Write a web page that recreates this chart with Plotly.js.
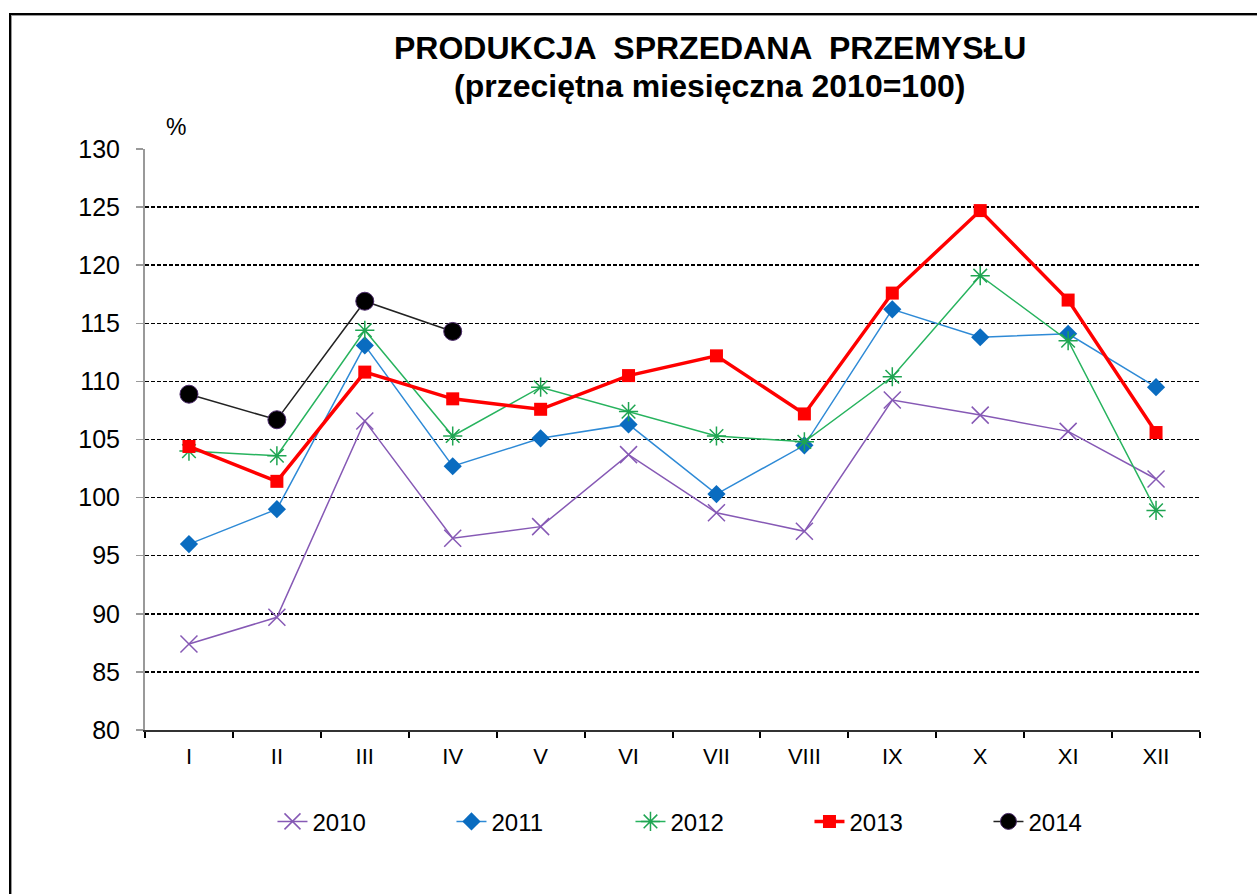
<!DOCTYPE html>
<html>
<head>
<meta charset="utf-8">
<script src="https://cdn.plot.ly/plotly-3.0.1.min.js"></script>
<style>
  html, body { margin: 0; padding: 0; background: #fff; overflow: hidden; }
  #chart { width: 1257px; height: 894px; }
  #frame { position: absolute; left: 9px; top: 13px; width: 1300px; height: 1000px;
           border-left: 2px solid #000; border-top: 2px solid #000;
           box-shadow: inset 1px 1px 0 #999; pointer-events: none; }
</style>
</head>
<body>
<div id="chart"></div>
<div id="frame"></div>
<script>
const months = ["I","II","III","IV","V","VI","VII","VIII","IX","X","XI","XII"];
const yearNames = ["2010","2011","2012","2013","2014"];
const titleLines = ["PRODUKCJA  SPRZEDANA  PRZEMYSŁU", "(przeciętna miesięczna 2010=100)"];
const v2010 = [87.4, 89.7, 106.6, 96.5, 97.5, 103.7, 98.7, 97.1, 108.4, 107.1, 105.7, 101.6];
const v2011 = [96.0, 99.0, 113.1, 102.7, 105.1, 106.3, 100.3, 104.5, 116.2, 113.8, 114.1, 109.5];
const v2012 = [104.0, 103.6, 114.4, 105.3, 109.5, 107.4, 105.3, 104.8, 110.4, 119.1, 113.5, 98.9];
const v2013 = [104.4, 101.4, 110.8, 108.5, 107.6, 110.5, 112.2, 107.2, 117.6, 124.7, 117.0, 105.6];
const v2014 = [108.9, 106.7, 116.9, 114.3];

const traces = [
  { name: yearNames[0], x: months, y: v2010, type: "scatter", mode: "lines+markers",
    line: { color: "#8659B5", width: 1.5 },
    marker: { symbol: "x-thin-open", size: 17, color: "#8659B5", line: { color: "#8659B5", width: 1.5 } } },
  { name: yearNames[1], x: months, y: v2011, type: "scatter", mode: "lines+markers",
    line: { color: "#2E8AD6", width: 1.5 },
    marker: { symbol: "diamond", size: 14, color: "#0A6CC0", line: { width: 0 } } },
  { name: yearNames[2], x: months, y: v2012, type: "scatter", mode: "lines+markers",
    line: { color: "#27B35E", width: 1.5 },
    marker: { symbol: "asterisk-open", size: 16, color: "#1FA552", line: { color: "#1FA552", width: 1.5 } } },
  { name: yearNames[3], x: months, y: v2013, type: "scatter", mode: "lines+markers",
    line: { color: "#FF0000", width: 3.5 },
    marker: { symbol: "square", size: 13, color: "#FF0000", line: { width: 0 } } },
  { name: yearNames[4], x: months.slice(0, v2014.length), y: v2014, type: "scatter", mode: "lines+markers",
    line: { color: "#222222", width: 1.5 },
    marker: { symbol: "circle", size: 18, color: "#000000", line: { color: "#4B2A6A", width: 1 } } }
];

const titleFont = { size: 32, family: "Arial, 'Liberation Sans', sans-serif", color: "#000" };

const layout = {
  width: 1257, height: 894,
  paper_bgcolor: "#ffffff", plot_bgcolor: "#ffffff",
  margin: { l: 145, r: 57, t: 149, b: 164 },
  font: { family: "Arial, 'Liberation Sans', sans-serif", color: "#000" },
  xaxis: {
    type: "category", categoryorder: "array", categoryarray: months,
    range: [-0.5, 11.5],
    showline: true, linecolor: "#333", linewidth: 2,
    ticks: "outside", tickson: "boundaries", ticklen: 6, tickcolor: "#000", tickwidth: 2,
    showgrid: false, zeroline: false,
    tickfont: { size: 22, color: "#000" }, ticklabelstandoff: 6
  },
  yaxis: {
    range: [80, 130], dtick: 5, tick0: 80,
    showline: true, linecolor: "#999", linewidth: 2,
    ticks: "outside", ticklen: 7, tickcolor: "#999", tickwidth: 1.5,
    showgrid: true, gridcolor: "#000", gridwidth: 1.5, griddash: "4px,2px",
    zeroline: false,
    tickfont: { size: 25, color: "#000" }, ticklabelstandoff: 11
  },
  showlegend: true,
  legend: {
    orientation: "h", x: 0.545, xanchor: "center", y: -0.158, yanchor: "middle",
    font: { size: 24, color: "#000" },
    entrywidth: 134, entrywidthmode: "pixels",
    bgcolor: "rgba(0,0,0,0)"
  },
  annotations: [
    { text: "<b>" + titleLines[0] + "</b>", xref: "paper", yref: "paper", x: 0.5355, y: 1.1738,
      xanchor: "center", yanchor: "middle", showarrow: false, font: titleFont },
    { text: "<b>" + titleLines[1] + "</b>", xref: "paper", yref: "paper", x: 0.5355, y: 1.1084,
      xanchor: "center", yanchor: "middle", showarrow: false, font: titleFont },
    { text: "%", xref: "paper", yref: "paper", x: 0.029, y: 1.0, xanchor: "center", yanchor: "bottom",
      yshift: 7, showarrow: false, font: { size: 23, color: "#000" } }
  ]
};

Plotly.newPlot("chart", traces, layout, { displayModeBar: false, staticPlot: true });
</script>
</body>
</html>
